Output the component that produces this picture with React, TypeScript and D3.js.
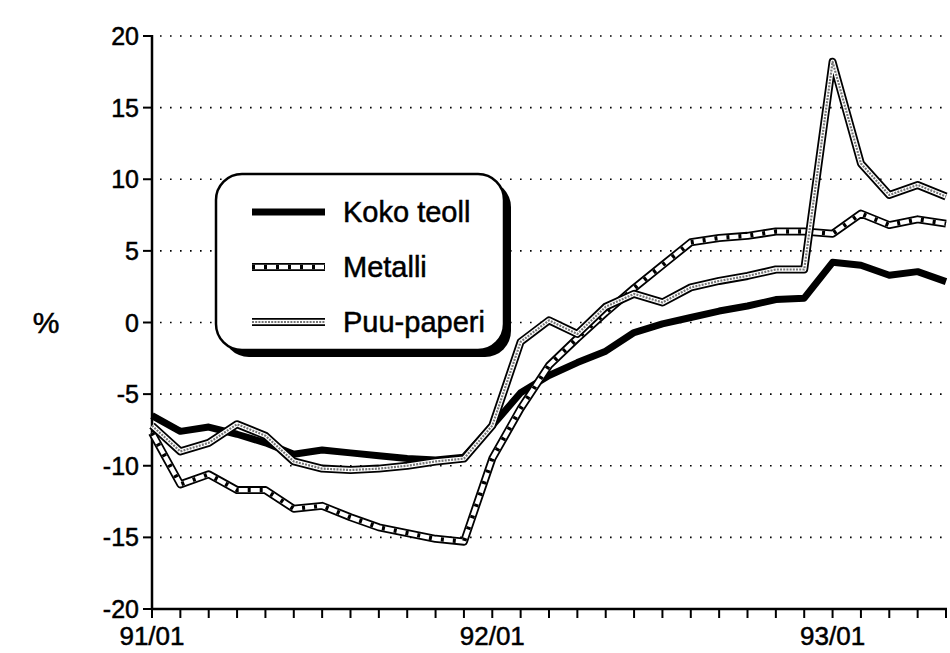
import React from 'react';
import * as d3 from 'd3';

const MONTHS = [
  '91/01', '91/02', '91/03', '91/04', '91/05', '91/06', '91/07', '91/08', '91/09', '91/10', '91/11', '91/12',
  '92/01', '92/02', '92/03', '92/04', '92/05', '92/06', '92/07', '92/08', '92/09', '92/10', '92/11', '92/12',
  '93/01', '93/02', '93/03', '93/04', '93/05',
];
const X_LABELS = ['91/01', '92/01', '93/01'];
const Y_TICKS = [-20, -15, -10, -5, 0, 5, 10, 15, 20];

const KOKO = [-6.5, -7.6, -7.3, -7.8, -8.4, -9.2, -8.9, -9.1, -9.3, -9.5, -9.6, -9.4,
  -7.2, -4.9, -3.7, -2.8, -2.0, -0.7, -0.1, 0.35, 0.8, 1.15, 1.6, 1.7, 4.2, 4.0, 3.3, 3.55, 2.85];
const METALLI = [-7.7, -11.3, -10.6, -11.7, -11.7, -13.0, -12.8, -13.6, -14.3, -14.7, -15.1, -15.3,
  -9.5, -6.0, -3.0, -1.1, 0.7, 2.4, 4.0, 5.6, 5.9, 6.05, 6.35, 6.35, 6.2, 7.6, 6.8, 7.2, 6.9];
const PUU = [-7.2, -9.0, -8.4, -7.1, -7.9, -9.7, -10.2, -10.3, -10.2, -10.0, -9.7, -9.5,
  -7.2, -1.35, 0.15, -0.8, 1.1, 2.0, 1.4, 2.45, 2.9, 3.25, 3.7, 3.7, 18.2, 11.1, 8.9, 9.6, 8.8];

const FONT = '"Liberation Sans", Arial, sans-serif';

// black outline + white core + pattern on top, like the printed chart
function FancyLine({ d, kind }: { d: string; kind: string }) {
  if (kind === 'solid') {
    return <path d={d} fill="none" stroke="#000" strokeWidth={7} strokeLinejoin="round" />;
  }
  return (
    <g fill="none" strokeLinejoin="round">
      <path d={d} stroke="#000" strokeWidth={8} />
      <path d={d} stroke="#fff" strokeWidth={4.4} />
      {kind === 'dash'
        ? <path d={d} stroke="#000" strokeWidth={4.4} strokeDasharray="3 9" />
        : <path d={d} stroke="#777" strokeWidth={2.2} strokeDasharray="2 1.2" />}
    </g>
  );
}

export default function App() {
  const width = 950;
  const height = 653;
  const x = d3.scalePoint<string>().domain(MONTHS).range([152, 946]);
  const y = d3.scaleLinear().domain([-20, 20]).range([609, 36]);

  const line = d3.line<number>()
    .x((_, i) => x(MONTHS[i]) as number)
    .y(v => y(v));

  const series = [
    { name: 'Koko teoll', values: KOKO, kind: 'solid' },
    { name: 'Metalli', values: METALLI, kind: 'dash' },
    { name: 'Puu-paperi', values: PUU, kind: 'stipple' },
  ];

  const lx0 = 252, lx1 = 325;
  const legendY = [212, 267, 322];
  const txt = { fontFamily: FONT, stroke: '#000', strokeWidth: 0.5 };

  return (
    <svg width={width} height={height} style={{ position: 'absolute', left: 0, top: 0, background: '#fff' }}>
      {/* dotted grid */}
      {Y_TICKS.filter(t => t > -20).map(t => (
        <line key={t} x1={160} x2={946} y1={y(t)} y2={y(t)}
          stroke="#000" strokeWidth={1.6} strokeDasharray="1.6 8.4" />
      ))}

      {/* y axis */}
      <line x1={152} x2={152} y1={y(20) - 1} y2={y(-20) + 1} stroke="#000" strokeWidth={2.5} />
      {Y_TICKS.map(t => (
        <g key={t}>
          <line x1={143} x2={152} y1={y(t)} y2={y(t)} stroke="#000" strokeWidth={2} />
          <text x={139} y={y(t)} dy="0.36em" textAnchor="end" fontSize={25} {...txt}>{t}</text>
        </g>
      ))}
      <text x={46} y={y(0)} dy="0.36em" textAnchor="middle" fontSize={30} {...txt}>%</text>

      {/* x axis */}
      <line x1={151} x2={947} y1={y(-20)} y2={y(-20)} stroke="#000" strokeWidth={2.5} />
      {MONTHS.map(m => (
        <line key={m} x1={x(m)} x2={x(m)} y1={y(-20)} y2={y(-20) + 9} stroke="#000" strokeWidth={2} />
      ))}
      {X_LABELS.map(m => (
        <text key={m} x={x(m)} y={645} textAnchor="middle" fontSize={26} {...txt}>{m}</text>
      ))}

      {/* series */}
      {series.map(s => (
        <FancyLine key={s.name} d={line(s.values) as string} kind={s.kind} />
      ))}

      {/* legend */}
      <rect x={223} y={181} width={288} height={176} rx={26} fill="#000" />
      <rect x={216} y={174} width={288} height={176} rx={26} fill="#fff" stroke="#000" strokeWidth={2.5} />
      {series.map((s, i) => (
        <g key={s.name}>
          <FancyLine d={`M${lx0},${legendY[i]}H${lx1}`} kind={s.kind} />
          <text x={343} y={legendY[i]} dy="0.36em" fontSize={29} {...txt}>{s.name}</text>
        </g>
      ))}
    </svg>
  );
}
